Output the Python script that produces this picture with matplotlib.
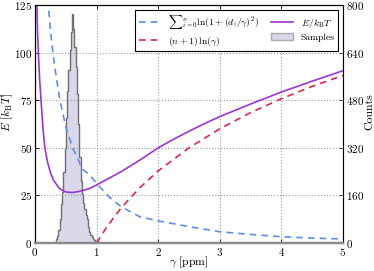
import matplotlib
matplotlib.use("Agg")
import matplotlib.pyplot as plt
from matplotlib.patches import Patch
from matplotlib.lines import Line2D

plt.rcParams['font.family'] = ['cmr10', 'DejaVu Serif']
plt.rcParams['mathtext.fontset'] = 'cm'
plt.rcParams['axes.formatter.use_mathtext'] = True
plt.rcParams['axes.unicode_minus'] = False

# Total energy E/kBT
gamma_E = [0.025, 0.03, 0.04, 0.054, 0.075, 0.1, 0.13, 0.16, 0.2, 0.25, 0.3, 0.4, 0.5,
           0.6, 0.7, 0.8, 0.9, 1.0, 1.2, 1.4, 1.7, 2.0, 2.25, 2.5, 2.75, 3.0, 3.5,
           4.0, 4.5, 5.0]
E_total = [135, 125, 112, 100, 86, 74, 60, 50, 43, 37, 33, 28.5, 26.8,
           26.5, 27, 27.8, 28.8, 30.5, 34, 37.5, 43.5, 50, 54.5, 58.7, 62.7, 66.4, 73,
           79.3, 85, 90.5]

# Sum term
gamma_sum = [0.2, 0.216, 0.25, 0.29, 0.35, 0.405, 0.5, 0.61, 0.7, 0.76, 0.89, 1.0,
             1.2, 1.4, 1.7, 2.0, 2.5, 3.0, 3.5, 4.0, 4.5, 5.0]
E_sum = [132, 125, 112, 100, 86, 75, 61, 50, 44, 39, 35.7, 31.3,
         24.3, 19, 13.8, 11.6, 8.6, 5.9, 4.5, 3.3, 2.6, 2.1]

# (n+1) ln(gamma) term
gamma_log = [1.0, 1.1, 1.2, 1.4, 1.7, 2.0, 2.5, 3.0, 3.5, 4.0, 4.5, 5.0]
E_log = [0, 5.2, 10, 18.5, 29, 37.9, 50, 60, 68.5, 75.8, 82.3, 88]

# Histogram of samples
bin_edges = [0.30 + 0.02 * i for i in range(41)]
counts = [0, 4, 12, 25, 45, 80, 130, 170, 240, 320, 420, 510, 580, 650, 710, 770,
          720, 660, 590, 500, 400, 290, 210, 165, 135, 115, 95, 80, 55, 38, 28, 20,
          15, 10, 7, 5, 3, 2, 1, 0]

x_ticks = [0, 1, 2, 3, 4, 5]
y_ticks = [0, 25, 50, 75, 100, 125]
count_ticks = [0, 160, 320, 480, 640, 800]

c_blue = '#5b8ee6'
c_red = '#e3234e'
c_purple = '#9b35d4'
c_fill = '#d9d7e9'
c_edge = '#707070'

fig = plt.figure(figsize=(3.74, 2.71), dpi=100)
ax = fig.add_axes([0.0936, 0.1033, 0.8235, 0.8782])
ax2 = ax.twinx()

centers = [(bin_edges[i] + bin_edges[i + 1]) / 2 for i in range(len(counts))]
ax2.hist(centers, bins=bin_edges, weights=counts, histtype='stepfilled',
         facecolor=c_fill, edgecolor=c_edge, linewidth=1.0)
ax2.set_ylim(0, 800)
ax2.set_yticks(count_ticks)
ax2.set_ylabel('Counts', fontsize=8.5)
ax2.yaxis.set_label_coords(1.072, 0.55)

ax.set_zorder(ax2.get_zorder() + 1)
ax.patch.set_visible(False)

ax.plot(gamma_sum, E_sum, color=c_blue, lw=1.2, ls=(0, (4, 3)))
ax.plot(gamma_log, E_log, color=c_red, lw=1.2, ls=(0, (4, 3)))
ax.plot(gamma_E, E_total, color=c_purple, lw=1.2)

ax.set_xlim(0, 5)
ax.set_ylim(0, 125)
ax.set_xticks(x_ticks)
ax.set_yticks(y_ticks)
ax.grid(True, ls=':', color='#999999', lw=0.8)
ax.set_xlabel(r'$\gamma\ [\mathrm{ppm}]$', fontsize=8.5)
ax.xaxis.set_label_coords(0.5, -0.05)
ax.set_ylabel(r'$E\ [k_\mathrm{B}T]$', fontsize=8.5)
ax.yaxis.set_label_coords(-0.064, 0.55)

for a in (ax, ax2):
    a.tick_params(direction='in', labelsize=8, length=3, width=0.6, pad=2)
ax.tick_params(top=True)
for s in ('left', 'top'):
    ax.spines[s].set_color('black')
ax.spines['bottom'].set_color('#8a8a8a')
ax.spines['bottom'].set_linewidth(1.6)
ax2.spines['right'].set_color('#555555')
ax2.spines['bottom'].set_color('#8a8a8a')
ax2.spines['bottom'].set_linewidth(1.6)

handles = [
    Line2D([], [], color=c_blue, lw=1.2, ls=(0, (4, 3))),
    Line2D([], [], color=c_red, lw=1.2, ls=(0, (4, 3))),
    Line2D([], [], color=c_purple, lw=1.2),
    Patch(facecolor=c_fill, edgecolor='#aaaaaa'),
]
labels = [r'$\sum{}_{i=0}^{n}\ln(1+(d_i/\gamma)^2)$', r'$(n+1)\,\ln(\gamma)$',
          r'$E/k_\mathrm{B}T$', 'Samples']
leg = ax.legend(handles, labels, ncol=2, loc='upper right', fontsize=7,
                fancybox=False, edgecolor='black', framealpha=1,
                bbox_to_anchor=(0.984, 0.979), borderaxespad=0, handlelength=2.2,
                columnspacing=1.3, borderpad=0.35, labelspacing=0.35)
leg.get_frame().set_linewidth(0.8)

fig.savefig('out.png', dpi=100)
